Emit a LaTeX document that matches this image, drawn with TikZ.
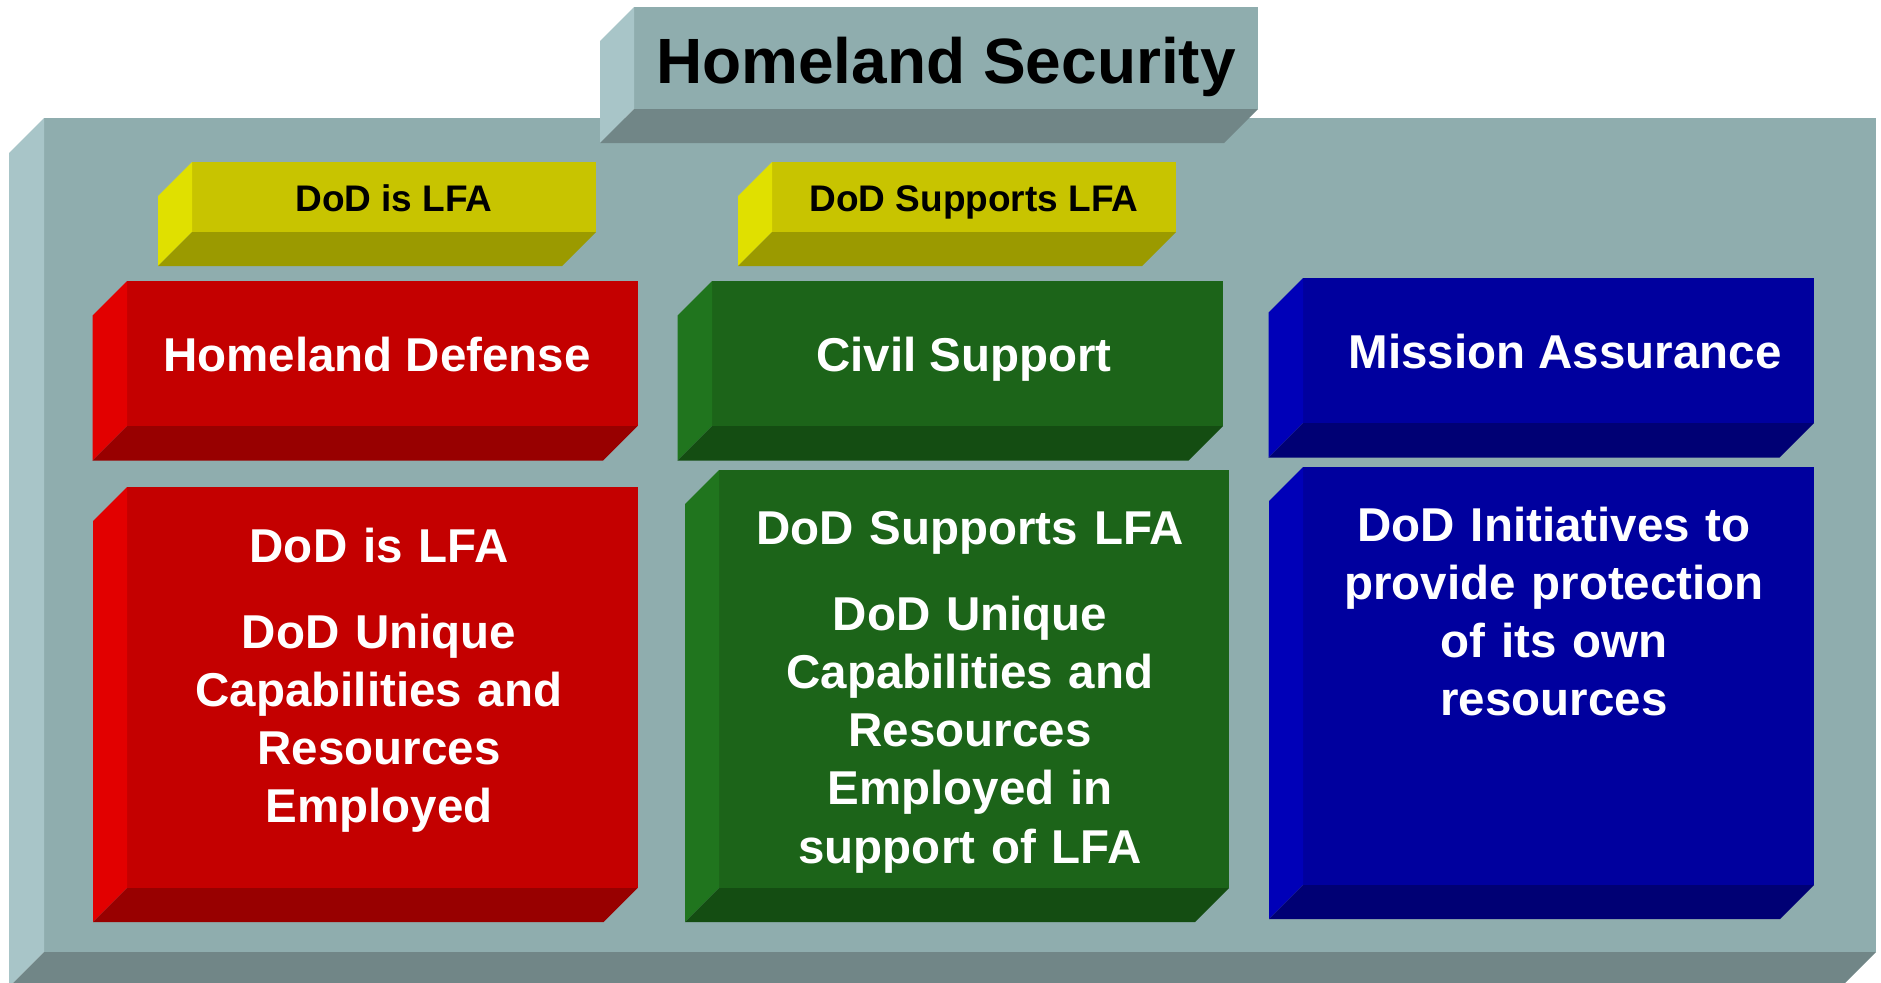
\documentclass[tikz,border=0pt]{standalone}
\usepackage{fontspec}
\setmainfont{Liberation Sans}
\definecolor{panelF}{HTML}{8FADAE}
\definecolor{panelL}{HTML}{A8C5C8}
\definecolor{panelB}{HTML}{718687}
\definecolor{yelF}{HTML}{C8C400}
\definecolor{yelL}{HTML}{E0E000}
\definecolor{yelB}{HTML}{9B9A00}
\definecolor{redF}{HTML}{C40000}
\definecolor{redL}{HTML}{E20000}
\definecolor{redB}{HTML}{980000}
\definecolor{grnF}{HTML}{1C6419}
\definecolor{grnL}{HTML}{20751E}
\definecolor{grnB}{HTML}{144D12}
\definecolor{bluF}{HTML}{00009E}
\definecolor{bluL}{HTML}{0000B8}
\definecolor{bluB}{HTML}{000074}
% x1 y1 x2 y2 depth front left bottom
\newcommand\bevbox[8]{%
  \fill[#6] (#1,#2) rectangle (#3,#4);
  \fill[#7] (#1-#5,#2+#5) -- (#1,#2) -- (#1,#4) -- (#1-#5,#4+#5) -- cycle;
  \fill[#8] (#1-#5,#4+#5) -- (#1,#4) -- (#3,#4) -- (#3-#5,#4+#5) -- cycle;
}
\tikzset{
  wtxt/.style={text=white, font=\fontsize{23.75pt}{29.1pt}\selectfont\bfseries, inner sep=0pt, anchor=base},
  wpara/.style={wtxt, text width=250pt, align=center},
  ytxt/.style={text=black, font=\fontsize{18.5pt}{22pt}\selectfont\bfseries, inner sep=0pt, anchor=base},
  ttxt/.style={text=black, font=\fontsize{32pt}{38pt}\selectfont\bfseries, inner sep=0pt, anchor=base}
}
\begin{document}
\begin{tikzpicture}[x=0.5pt,y=-0.5pt]
\useasboundingbox (0,0) rectangle (1881,982);
\fill[white] (0,0) rectangle (1881,982);
\clip (0,0) rectangle (1881,982);
% main panel
\bevbox{44}{118}{1876}{952}{35}{panelF}{panelL}{panelB}
% title box
\bevbox{634}{7}{1258}{109}{34}{panelF}{panelL}{panelB}
\node[ttxt] (title) at (946,83) {Homeland Security};
% yellow labels
\bevbox{192}{162}{596}{232}{34}{yelF}{yelL}{yelB}
\node[ytxt] (lfa1) at (394,211) {DoD is LFA};
\bevbox{772}{162}{1176}{232}{34}{yelF}{yelL}{yelB}
\node[ytxt] (lfa2) at (974,211) {DoD Supports LFA};
% headers
\bevbox{127}{281}{637.5}{426}{34.5}{redF}{redL}{redB}
\node[wtxt] (hd) at (377,371) {Homeland Defense};
\bevbox{712}{281}{1223}{426}{34.5}{grnF}{grnL}{grnB}
\node[wtxt] (cs) at (964,371) {Civil Support};
\bevbox{1303}{278}{1814}{423}{34.5}{bluF}{bluL}{bluB}
\node[wtxt] (ma) at (1565,368) {Mission Assurance};
% bodies
\bevbox{127}{487}{637.5}{888}{34}{redF}{redL}{redB}
\node[wpara] (hdbody) at (379,562) {DoD is LFA\\[14pt]DoD Unique\\Capabilities and\\Resources\\Employed};
\bevbox{719}{470}{1229}{888}{34}{grnF}{grnL}{grnB}
\node[wpara] (csbody) at (970,544) {DoD Supports LFA\\[14pt]DoD Unique\\Capabilities and\\Resources\\Employed in\\support of LFA};
\bevbox{1303}{467}{1814}{885}{34}{bluF}{bluL}{bluB}
\node[wpara] (mabody) at (1554,541) {DoD Initiatives to\\provide protection\\of its own\\resources};
\end{tikzpicture}
\end{document}
